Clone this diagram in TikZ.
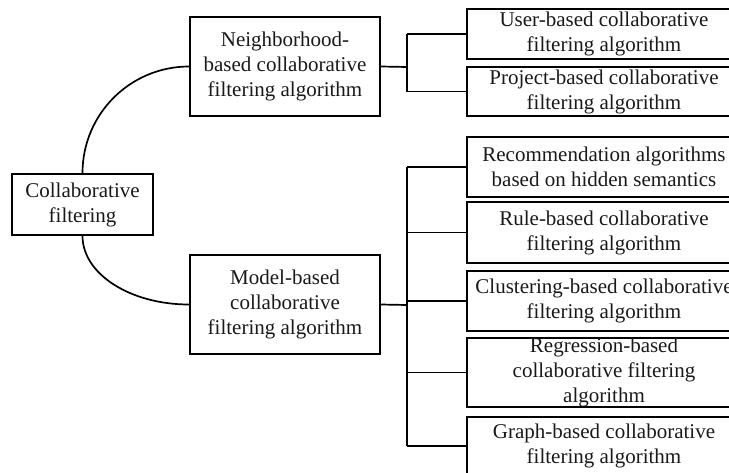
\documentclass[tikz,border=0pt]{standalone}
\usepackage{fontspec}
\setmainfont{Liberation Serif}
\usetikzlibrary{calc}

\tikzset{
  cbox/.style={draw, line width=1.8pt, align=center, inner sep=0pt,
    text=black!90, font=\fontsize{21}{25}\selectfont},
  leafbox/.style={cbox, minimum width=274pt},
  link/.style={line width=1.7pt}
}

\begin{document}
\begin{tikzpicture}[x=1pt, y=-1pt]
\useasboundingbox (0,0) rectangle (729,472);
\clip (0,0) rectangle (729,472);

% Root and the two families
\node[cbox, minimum width=141pt, minimum height=61pt] (root) at (82.5,204.5) {Collaborative\\filtering};
\node[cbox, minimum width=190pt, minimum height=99pt] (nb) at (285,66.5) {Neighborhood-\\based collaborative\\filtering algorithm};
\node[cbox, minimum width=190pt, minimum height=99pt] (model) at (285,304.5) {Model-based\\collaborative\\filtering algorithm};

% Neighborhood-based leaves
\node[leafbox, minimum height=50pt] (user) at (604,34) {User-based collaborative\\filtering algorithm};
\node[leafbox, minimum height=49pt] (proj) at (604,91.5) {Project-based collaborative\\filtering algorithm};

% Model-based leaves
\node[leafbox, minimum height=60pt] (rec) at (604,167) {Recommendation algorithms\\based on hidden semantics};
\node[leafbox, minimum height=61pt] (rule) at (604,232.5) {Rule-based collaborative\\filtering algorithm};
\node[leafbox, minimum height=60pt] (clust) at (604,301) {Clustering-based collaborative\\filtering algorithm};
\node[leafbox, minimum height=67pt] (reg) at (604,372.5) {Regression-based\\collaborative filtering\\algorithm};
\node[leafbox, minimum height=58pt] (graph) at (604,446) {Graph-based collaborative\\filtering algorithm};

% Arcs from the root
\draw[link] (root.north) .. controls +(0,-59) and +(-59,0) .. (nb.west);
\draw[link] (root.south) .. controls +(0,38) and +(-59,0) .. (model.west);

% Neighborhood fork
\coordinate (nbfork) at (407,67);
\draw[link] (nb.east) -- (nbfork);
\draw[link] (nbfork |- user.west) -- (nbfork |- proj.west);
\foreach \c in {user,proj}
    \draw[link] (nbfork |- \c.west) -- (\c.west);

% Model fork
\coordinate (mdfork) at (407,305);
\draw[link] (model.east) -- (mdfork);
\draw[link] (mdfork |- rec.west) -- (mdfork |- graph.west);
\foreach \c in {rec,rule,clust,reg,graph}
    \draw[link] (mdfork |- \c.west) -- (\c.west);
\end{tikzpicture}
\end{document}
